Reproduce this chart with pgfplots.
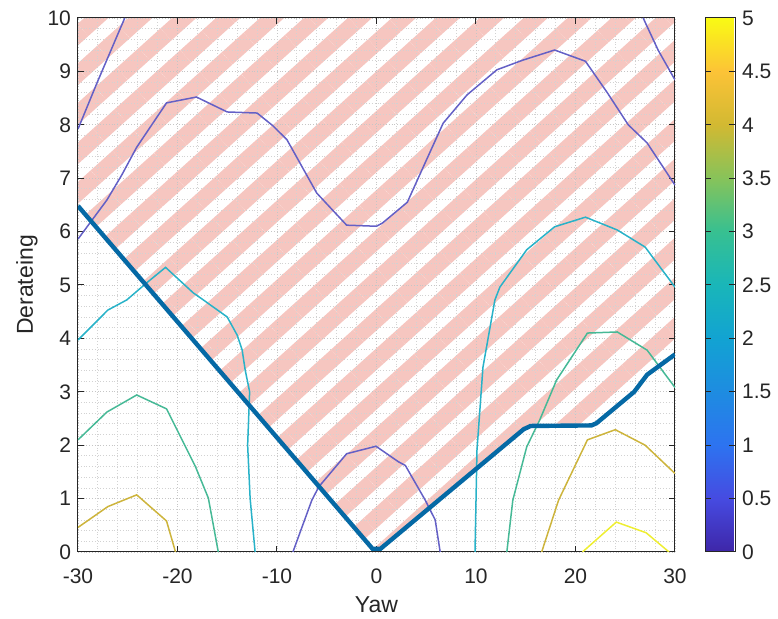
\documentclass[border=0pt]{standalone}
\usepackage{fontspec}
\setmainfont{Liberation Sans}
\usepackage{pgfplots}
\pgfplotsset{compat=1.18}
\usetikzlibrary{patterns.meta}

\definecolor{axgray}{RGB}{38,38,38}
\definecolor{lvlA}{RGB}{100,96,198}
\definecolor{lvlB}{RGB}{40,178,200}
\definecolor{lvlC}{RGB}{70,185,150}
\definecolor{lvlD}{RGB}{205,180,60}
\definecolor{lvlE}{RGB}{238,238,50}
\definecolor{bound}{RGB}{5,105,165}
\definecolor{hatchpink}{RGB}{246,198,192}

\pgfplotsset{
  /pgf/number format/assume math mode=true,
  every tick label/.append style={font=\fontsize{10.5}{12}\selectfont, text=axgray},
  plotarea/.style={scale only axis, width=298.5pt, height=267pt,
    xmin=-30, xmax=30, ymin=0, ymax=10},
}

\begin{document}
\begin{tikzpicture}
\useasboundingbox (-39pt,-33.5pt) rectangle (350pt,276pt);
% frame, grid, colorbar and the hatched region (grid drawn over the hatch)
\begin{axis}[
  plotarea,
  axis on top,
  xtick={-30,-20,-10,0,10,20,30},
  xticklabels={-30,-20,-10,0,10,20,30},
  ytick={0,1,2,3,4,5,6,7,8,9,10},
  minor x tick num=4, minor y tick num=4,
  grid=both,
  major grid style={densely dotted, gray!45, line width=0.4pt},
  minor grid style={densely dotted, gray!35, line width=0.4pt},
  tick align=inside,
  major tick length=3pt, minor tick length=0pt,
  axis line style={axgray, line width=0.5pt},
  tick style={axgray, line width=0.5pt},
  xticklabel style={anchor=base, yshift=-16pt},
  label style={font=\fontsize{11.5}{13}\selectfont, text=axgray},
  xlabel={Yaw}, ylabel={Derateing},
  xlabel style={at={(axis description cs:0.5,0)}, anchor=base, yshift=-30.5pt},
  ylabel style={at={(axis description cs:0,0.5)}, anchor=base, yshift=22.5pt},
  no markers,
  colormap={parulaish}{rgb255=(62,38,168) rgb255=(70,75,225) rgb255=(45,115,240)
    rgb255=(30,140,225) rgb255=(18,163,210) rgb255=(25,182,185) rgb255=(55,192,145)
    rgb255=(135,195,90) rgb255=(210,185,50) rgb255=(252,195,55) rgb255=(249,250,20)},
  point meta min=0, point meta max=5,
  colorbar,
  colorbar style={
    width=15pt,
    at={(parent axis.north east)}, anchor=north west, xshift=6.5pt,
    ytick={0,0.5,1,1.5,2,2.5,3,3.5,4,4.5,5},
    tick align=inside, major tick length=3pt,
    axis line style={axgray, line width=0.5pt},
    ytick style={axgray},
    yticklabel style={font=\fontsize{10.5}{12}\selectfont, text=axgray},
  },
]
\addplot[draw=none,
  pattern={Lines[angle=42, distance=14.7pt, line width=8.1pt]},
  pattern color=hatchpink] coordinates {
  (-30,6.48) (-0.4,0.06) (0.4,0.06) (14.8,2.30) (15.5,2.36) (21.6,2.37)
  (22.1,2.41) (25.9,3.0) (27.2,3.32) (30,3.70) (30,10) (-30,10)};
\end{axis}

% contour lines and the limit curve, on top of the grid
\begin{axis}[plotarea, hide axis, no markers]
\addplot[lvlA, line width=0.75pt] coordinates {(-30,7.92) (-28.1,8.78) (-25.3,10)};
\addplot[lvlA, line width=0.75pt] coordinates {
  (-30,5.86) (-27.1,6.59) (-25.6,7.06) (-24.1,7.58) (-21.1,8.41) (-18.1,8.52)
  (-15.0,8.24) (-12.0,8.22) (-10.4,7.98) (-9.0,7.72) (-6.0,6.72) (-3.0,6.12)
  (0,6.10) (0.6,6.16) (3.1,6.55) (4.7,7.21) (6.7,8.03) (9.1,8.56) (12.1,9.03)
  (14.7,9.21) (17.9,9.40) (21.0,9.19) (23.2,8.60) (25.3,8.0) (27.2,7.66) (30,6.87)};
\addplot[lvlA, line width=0.75pt] coordinates {(26.8,10) (28.3,9.40) (30,8.84)};
\addplot[lvlA, line width=0.75pt] coordinates {
  (-8.4,0) (-6.5,0.97) (-5.8,1.22) (-3.0,1.84) (-0.05,1.98) (2.2,1.69) (2.9,1.62)
  (4.9,0.97) (5.9,0.6) (6.4,0)};
\addplot[lvlB, line width=0.75pt] coordinates {
  (-30,3.97) (-27,4.53) (-25.1,4.72) (-23.1,5.04) (-21.2,5.33) (-18.4,4.85)
  (-17.4,4.72) (-15.0,4.40) (-14.0,4.06) (-13.5,3.78) (-13.2,3.41) (-12.75,3.0)
  (-12.95,2.0) (-12.7,1.0) (-12.2,0)};
\addplot[lvlB, line width=0.75pt] coordinates {
  (9.9,0) (10.1,1.91) (10.7,3.46) (11.9,4.72) (12.4,4.96) (15.1,5.66) (17.9,6.09)
  (21.0,6.27) (24.2,6.03) (27,5.71) (30,4.96)};
\addplot[lvlC, line width=0.75pt] coordinates {
  (-30,2.10) (-27.1,2.62) (-24.1,2.94) (-21.1,2.68) (-18.2,1.60) (-16.9,1.01) (-15.9,0)};
\addplot[lvlC, line width=0.75pt] coordinates {
  (13.1,0) (13.7,0.97) (15.1,1.97) (16.4,2.47) (18.1,3.22) (21.2,4.10) (24.2,4.12)
  (27.2,3.78) (30,3.08)};
\addplot[lvlD, line width=0.75pt] coordinates {
  (-30,0.46) (-27,0.85) (-24.1,1.07) (-21.1,0.58) (-20.2,0)};
\addplot[lvlD, line width=0.75pt] coordinates {
  (16.6,0) (18.3,0.97) (21.2,2.10) (24.0,2.29) (27.0,2.0) (30,1.47)};
\addplot[lvlE, line width=0.75pt] coordinates {
  (20.7,0) (24.1,0.56) (27.1,0.36) (29.4,0)};

\addplot[bound, line width=2.2pt] coordinates {
  (-30,6.48) (-0.4,0.06) (0.4,0.06) (14.8,2.30) (15.5,2.36) (21.6,2.37)
  (22.1,2.41) (25.9,3.0) (27.2,3.32) (30,3.70)};
\end{axis}
\end{tikzpicture}
\end{document}
